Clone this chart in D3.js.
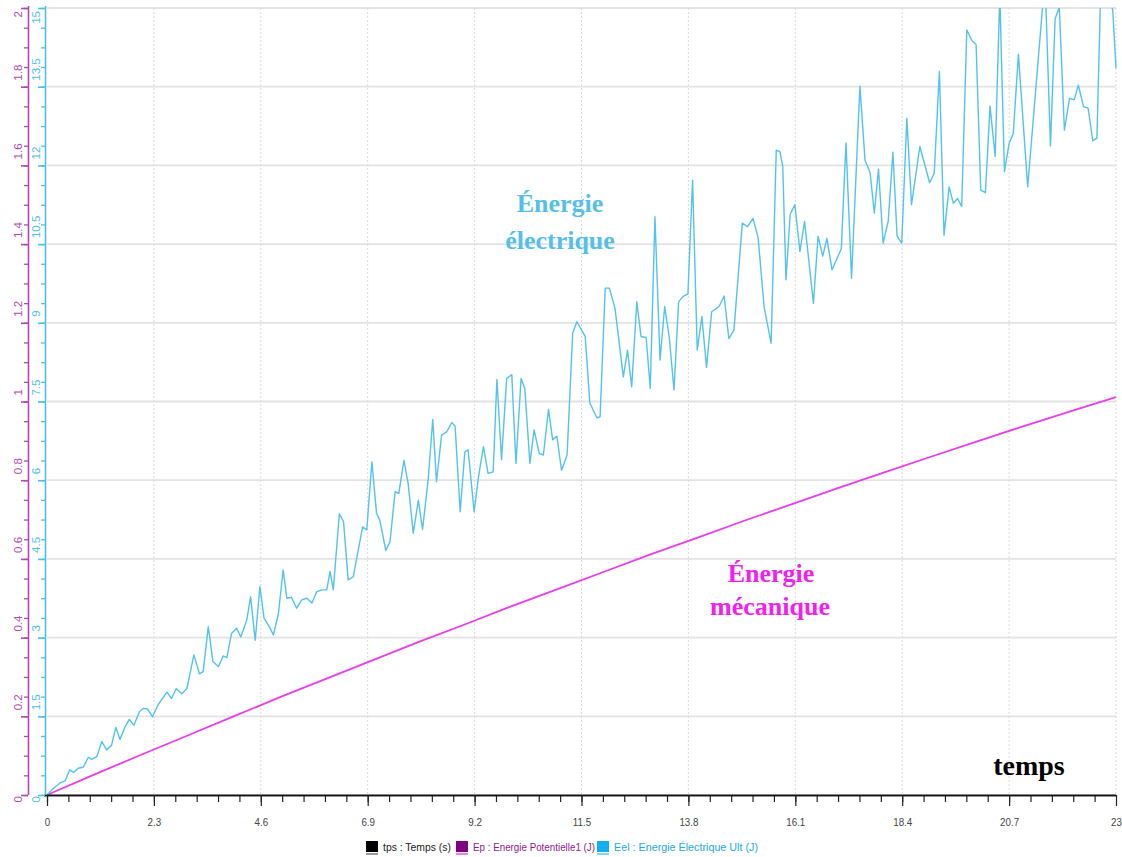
<!DOCTYPE html>
<html>
<head>
<meta charset="utf-8">
<script src="https://cdn.jsdelivr.net/npm/d3@7"></script>
<style>
  body { margin: 0; background: #ffffff; }
  svg { display: block; }
</style>
</head>
<body>
<svg id="chart" width="1122" height="857"></svg>
<script>
// ---- data -------------------------------------------------------------
// time axis (s)
const timeTickValues = [0, 2.3, 4.6, 6.9, 9.2, 11.5, 13.8, 16.1, 18.4, 20.7, 23];
const timeTickLabels = ["0", "2.3", "4.6", "6.9", "9.2", "11.5", "13.8", "16.1", "18.4", "20.7", "23"];

// left axis : Ep (J)
const epTickValues = [0, 0.2, 0.4, 0.6, 0.8, 1, 1.2, 1.4, 1.6, 1.8, 2];
const epTickLabels = ["0", "0.2", "0.4", "0.6", "0.8", "1", "1.2", "1.4", "1.6", "1.8", "2"];

// second axis : Eel (J)
const eelTickValues = [0, 1.5, 3, 4.5, 6, 7.5, 9, 10.5, 12, 13.5, 15];
const eelTickLabels = ["0", "1.5", "3", "4.5", "6", "7.5", "9", "10.5", "12", "13.5", "15"];

// Ep : Energie Potentielle1 (J)
const epTime = [0, 1, 2, 3, 4, 5, 6, 7, 8, 9, 10, 11, 12, 13, 14, 15, 16, 17, 18, 19, 20, 21, 22, 23];
const epValues = [0, 0.051, 0.101, 0.150, 0.199, 0.248, 0.295, 0.342, 0.389, 0.434, 0.480, 0.524,
                  0.568, 0.612, 0.654, 0.697, 0.738, 0.779, 0.819, 0.859, 0.898, 0.937, 0.974, 1.011];

// Eel : Energie Electrique Ult (J)
const eelTime = [
  0, 0.14, 0.28, 0.39, 0.49, 0.57, 0.67, 0.78, 0.89, 0.96, 1.07, 1.18, 1.28, 1.39, 1.48, 1.57, 1.68, 1.77, 1.87, 1.99,
  2.07, 2.16, 2.27, 2.39, 2.58, 2.68, 2.78, 2.90, 3.01, 3.16, 3.28, 3.36, 3.47, 3.57, 3.69, 3.79, 3.87, 3.97, 4.08, 4.17,
  4.30, 4.38, 4.48, 4.58, 4.67, 4.80, 4.87, 4.98, 5.08, 5.16, 5.26, 5.37, 5.48, 5.59, 5.70, 5.80, 5.91, 6.02, 6.09, 6.16,
  6.29, 6.38, 6.48, 6.59, 6.79, 6.88, 6.99, 7.09, 7.16, 7.29, 7.38, 7.49, 7.57, 7.68, 7.77, 7.88, 7.99, 8.08, 8.20, 8.30,
  8.38, 8.49, 8.60, 8.71, 8.78, 8.89, 8.99, 9.06, 9.19, 9.28, 9.39, 9.49, 9.60, 9.68, 9.78, 9.89, 10.00, 10.09, 10.20, 10.28,
  10.39, 10.48, 10.59, 10.68, 10.79, 10.88, 10.97, 11.07, 11.19, 11.31, 11.40, 11.58, 11.68, 11.83, 11.90, 12.01, 12.10, 12.22, 12.40, 12.49,
  12.58, 12.69, 12.78, 12.89, 12.98, 13.08, 13.19, 13.29, 13.39, 13.49, 13.59, 13.68, 13.79, 13.89, 13.99, 14.09, 14.19, 14.30, 14.46, 14.57,
  14.67, 14.78, 14.96, 15.07, 15.19, 15.30, 15.43, 15.58, 15.69, 15.77, 15.83, 15.90, 15.99, 16.09, 16.20, 16.30, 16.49, 16.59, 16.69, 16.78,
  16.89, 17.09, 17.19, 17.31, 17.49, 17.60, 17.71, 17.80, 17.89, 17.99, 18.10, 18.20, 18.29, 18.39, 18.50, 18.60, 18.78, 18.99, 19.09, 19.20,
  19.30, 19.41, 19.50, 19.59, 19.68, 19.79, 19.90, 19.99, 20.09, 20.19, 20.29, 20.40, 20.50, 20.60, 20.70, 20.79, 20.90, 21.10, 21.42, 21.48,
  21.59, 21.69, 21.78, 21.89, 22.00, 22.10, 22.19, 22.30, 22.40, 22.50, 22.59, 22.66, 22.78, 22.93, 23.00
];
const eelValues = [
  0, 0.13, 0.23, 0.27, 0.48, 0.43, 0.51, 0.53, 0.72, 0.68, 0.73, 1.02, 0.86, 0.95, 1.29, 1.06, 1.30, 1.44, 1.33, 1.59,
  1.65, 1.64, 1.49, 1.72, 1.96, 1.84, 2.03, 1.93, 2.03, 2.67, 2.31, 2.35, 3.21, 2.54, 2.45, 2.65, 2.62, 3.08, 3.18, 3.01,
  3.34, 3.78, 2.95, 3.97, 3.37, 3.18, 3.05, 3.46, 4.29, 3.75, 3.77, 3.56, 3.72, 3.75, 3.66, 3.87, 3.91, 3.91, 4.26, 3.91,
  5.36, 5.21, 4.10, 4.16, 5.11, 5.05, 6.35, 5.37, 5.24, 4.66, 4.83, 5.78, 5.75, 6.38, 5.94, 4.99, 5.62, 5.06, 6.00, 7.16,
  5.97, 6.86, 6.92, 7.10, 7.03, 5.40, 6.54, 6.58, 5.40, 6.04, 6.64, 6.13, 6.16, 7.92, 6.39, 7.94, 8.01, 6.32, 7.94, 7.75,
  6.32, 6.96, 6.51, 6.48, 7.35, 6.77, 6.84, 6.19, 6.48, 8.80, 9.02, 8.74, 7.47, 7.19, 7.21, 9.66, 9.66, 9.28, 7.97, 8.48,
  7.78, 9.40, 8.74, 8.72, 7.75, 11.02, 8.29, 9.31, 8.71, 7.72, 9.40, 9.50, 9.55, 11.72, 8.48, 9.12, 8.15, 9.21, 9.31, 9.51,
  8.70, 8.86, 10.90, 10.83, 10.99, 10.62, 9.30, 8.61, 12.29, 12.26, 11.98, 9.82, 11.07, 11.25, 10.36, 10.93, 9.37, 10.65, 10.27, 10.61,
  10.01, 10.41, 12.43, 9.85, 13.51, 12.10, 11.86, 11.09, 11.93, 10.52, 10.94, 12.25, 10.65, 10.52, 12.90, 11.25, 12.36, 11.67, 11.85, 13.79,
  10.67, 11.59, 11.28, 11.37, 11.22, 14.58, 14.38, 14.30, 11.53, 11.48, 13.13, 12.17, 15.25, 11.88, 12.42, 12.61, 14.12, 11.59, 15.02, 15.38,
  12.37, 14.79, 15.02, 12.67, 13.28, 13.25, 13.53, 13.12, 13.09, 12.47, 12.52, 14.99, 15.44, 14.96, 13.85
];

const legendItems = [
  { label: "tps : Temps (s)", color: "#000000", text: "#222222", under: "#9a9a9a" },
  { label: "Ep : Energie Potentielle1 (J)", color: "#800080", text: "#8a1a8a", under: "#f07cf0" },
  { label: "Eel : Energie Électrique Ult (J)", color: "#12aef0", text: "#1aa8e8", under: "#7fd6f6" }
];

// ---- layout ----------------------------------------------------------
const svg = d3.select("#chart");
const plot = { left: 47, right: 1116, top: 8, bottom: 795 };

const x = d3.scaleLinear().domain([0, 23]).range([plot.left, plot.right]);
const yEp = d3.scaleLinear().domain([0, 2]).range([plot.bottom, plot.top]);
const yEel = d3.scaleLinear().domain([0, 15]).range([plot.bottom, plot.top]);

const colEpAxis = "#b04ab0";
const colEelAxis = "#4cc0e6";
const colEpLine = "#ea3cea";
const colEelLine = "#52c3ec";

// ---- grid -----------------------------------------------------------
const grid = svg.append("g");
grid.selectAll("line.h").data(epTickValues).join("line")
  .attr("x1", plot.left).attr("x2", plot.right)
  .attr("y1", d => yEp(d)).attr("y2", d => yEp(d))
  .attr("stroke", "#e3e3e3").attr("stroke-width", 1.8);
grid.selectAll("line.v").data(timeTickValues.slice(1)).join("line")
  .attr("x1", d => x(d)).attr("x2", d => x(d))
  .attr("y1", plot.top).attr("y2", plot.bottom)
  .attr("stroke", "#d9d9d9").attr("stroke-width", 1)
  .attr("stroke-dasharray", "2,2");

// ---- curves ---------------------------------------------------------
svg.append("clipPath").attr("id", "plotClip")
  .append("rect").attr("x", plot.left - 2).attr("y", plot.top)
  .attr("width", plot.right - plot.left + 3).attr("height", plot.bottom - plot.top + 2);

const curves = svg.append("g").attr("clip-path", "url(#plotClip)");

const epLine = d3.line().x((d, i) => x(epTime[i])).y(d => yEp(d));
curves.append("path").datum(epValues)
  .attr("d", epLine).attr("fill", "none")
  .attr("stroke", colEpLine).attr("stroke-width", 1.8);

const eelLine = d3.line().x((d, i) => x(eelTime[i])).y(d => yEel(d));
curves.append("path").datum(eelValues)
  .attr("d", eelLine).attr("fill", "none")
  .attr("stroke", colEelLine).attr("stroke-width", 1.4)
  .attr("stroke-linejoin", "round");

// ---- x axis ---------------------------------------------------------
const minorTime = d3.range(0, 50).map(i => +(i * 0.46).toFixed(2)).filter(v => v <= 23);
const xMinor = svg.append("g").attr("transform", `translate(0,${plot.bottom})`)
  .call(d3.axisBottom(x).tickValues(minorTime).tickSize(7).tickFormat(""));
const xMajor = svg.append("g").attr("transform", `translate(0,${plot.bottom})`)
  .call(d3.axisBottom(x).tickValues(timeTickValues).tickSize(11)
    .tickFormat((d, i) => timeTickLabels[i]).tickPadding(12));
[xMinor, xMajor].forEach(g => {
  g.select(".domain").attr("stroke", "#111").attr("stroke-width", 1.6)
    .attr("d", `M${plot.left - 3},0.5H${plot.right}`);
  g.selectAll(".tick line").attr("stroke", "#222").attr("stroke-width", 1.2);
});
xMajor.selectAll(".tick text")
  .attr("font-family", "Liberation Sans, Arial, sans-serif")
  .attr("font-size", 11.5).attr("fill", "#444")
  .attr("transform", "scale(0.85,1)");

// ---- vertical axes --------------------------------------------------
function verticalAxis(scale, values, labels, xPos, labelX, color, minorStep, top) {
  const g = svg.append("g").attr("transform", `translate(${xPos},0)`);
  const minor = d3.range(0, Math.round(top / minorStep) + 1).map(i => i * minorStep);
  g.append("g").call(d3.axisLeft(scale).tickValues(minor).tickSize(4).tickFormat(""))
    .call(a => a.select(".domain").remove())
    .call(a => a.selectAll(".tick line").attr("stroke", color).attr("stroke-width", 1.3));
  g.append("g").call(d3.axisLeft(scale).tickValues(values).tickSize(7).tickFormat(""))
    .call(a => a.select(".domain").attr("stroke", color).attr("stroke-width", 1.6)
      .attr("d", `M0.5,${plot.bottom}V${plot.top - 2}`))
    .call(a => a.selectAll(".tick line").attr("stroke", color).attr("stroke-width", 1.6));
  // labels written upward along the axis
  values.forEach((v, i) => {
    const last = i === values.length - 1;
    const first = i === 0;
    const yy = first ? scale(v) + 1 : last ? scale(v) + 3 : scale(v) - 6;
    svg.append("text")
      .attr("transform", `translate(${labelX},${yy}) rotate(-90)`)
      .attr("text-anchor", first || last ? "end" : "start")
      .attr("font-family", "Liberation Sans, Arial, sans-serif")
      .attr("font-size", 11.5).attr("fill", color)
      .text(labels[i]);
  });
}
verticalAxis(yEp, epTickValues, epTickLabels, 28, 22, colEpAxis, 0.05, 2);
verticalAxis(yEel, eelTickValues, eelTickLabels, 45, 40, colEelAxis, 0.375, 15);

// ---- annotations ----------------------------------------------------
const serif = "Liberation Serif, Times New Roman, serif";
svg.append("text").attr("x", 560).attr("y", 212).attr("text-anchor", "middle")
  .attr("font-family", serif).attr("font-weight", "bold").attr("font-size", 26)
  .attr("fill", "#55bfea").text("Énergie");
svg.append("text").attr("x", 560).attr("y", 249).attr("text-anchor", "middle")
  .attr("font-family", serif).attr("font-weight", "bold").attr("font-size", 26)
  .attr("fill", "#55bfea").text("électrique");
svg.append("text").attr("x", 771).attr("y", 582).attr("text-anchor", "middle")
  .attr("font-family", serif).attr("font-weight", "bold").attr("font-size", 26)
  .attr("fill", "#f020f0").text("Énergie");
svg.append("text").attr("x", 770).attr("y", 615).attr("text-anchor", "middle")
  .attr("font-family", serif).attr("font-weight", "bold").attr("font-size", 26)
  .attr("fill", "#f020f0").text("mécanique");
svg.append("text").attr("x", 1029).attr("y", 775).attr("text-anchor", "middle")
  .attr("font-family", serif).attr("font-weight", "bold").attr("font-size", 28)
  .attr("fill", "#000").text("temps");

// ---- legend ---------------------------------------------------------
const legendX = [366, 456, 597];
const legendW = [68, 122, 144];
const legend = svg.append("g");
legendItems.forEach((it, i) => {
  const g = legend.append("g").attr("transform", `translate(${legendX[i]},841)`);
  g.append("rect").attr("width", 12).attr("height", 11).attr("fill", it.color);
  g.append("rect").attr("y", 12).attr("width", 12).attr("height", 2).attr("fill", it.under);
  g.append("text").attr("x", 17).attr("y", 10)
    .attr("font-family", "Liberation Sans, Arial, sans-serif")
    .attr("font-size", 10.5).attr("fill", it.text)
    .attr("textLength", legendW[i]).attr("lengthAdjust", "spacingAndGlyphs")
    .text(it.label);
});
</script>
</body>
</html>
